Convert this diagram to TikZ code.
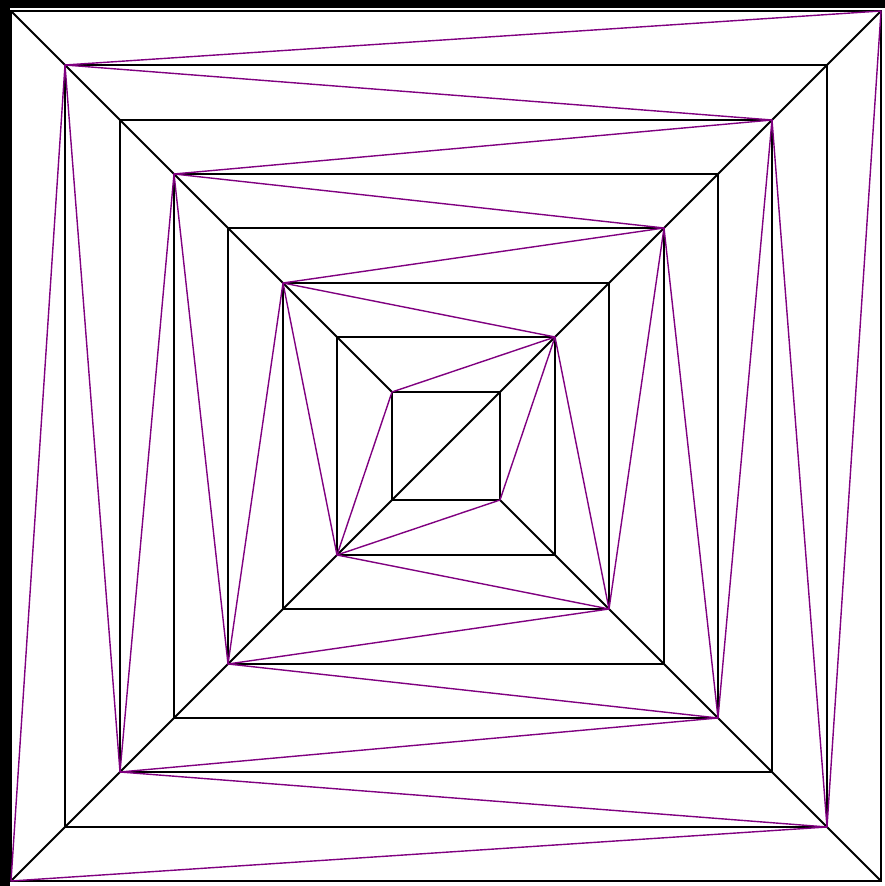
\documentclass[tikz,border=0pt]{standalone}
\definecolor{spiral}{HTML}{800080}
\tikzset{
  framesquare/.style={draw=black,line width=1.8pt},
  diagline/.style={draw=black,line width=1.8pt},
  spiralline/.style={draw=spiral,line width=1.4pt,line join=round}
}

\begin{document}
\begin{tikzpicture}[x=1pt,y=1pt]
\fill[black] (0,0) rectangle (885,886);
\fill[white] (10,0) rectangle (885,878);
\useasboundingbox (0,0) rectangle (885,886);
% corners of the nested squares
\foreach \k in {0,...,7}{
  \pgfmathsetmacro{\h}{round(435*(8-\k)/8)}
  \coordinate (tl\k) at (446-\h,440+\h);
  \coordinate (tr\k) at (446+\h,440+\h);
  \coordinate (br\k) at (446+\h,440-\h);
  \coordinate (bl\k) at (446-\h,440-\h);
  \ifodd\k\relax
    \coordinate (lf\k) at (tl\k); \coordinate (rt\k) at (br\k);
  \else
    \coordinate (lf\k) at (bl\k); \coordinate (rt\k) at (tr\k);
  \fi
  \draw[framesquare] (tl\k) rectangle (br\k);
}
\draw[diagline] (bl0) -- (tr0);
\draw[diagline] (tl0) -- (tl7);
\draw[diagline] (br7) -- (br0);
% zigzag band
\foreach \k [evaluate=\k as \n using int(\k+1)] in {0,...,6}
  \draw[spiralline] (lf\k) -- (lf\n) -- (rt\k) -- (rt\n) -- cycle;
\end{tikzpicture}
\end{document}
